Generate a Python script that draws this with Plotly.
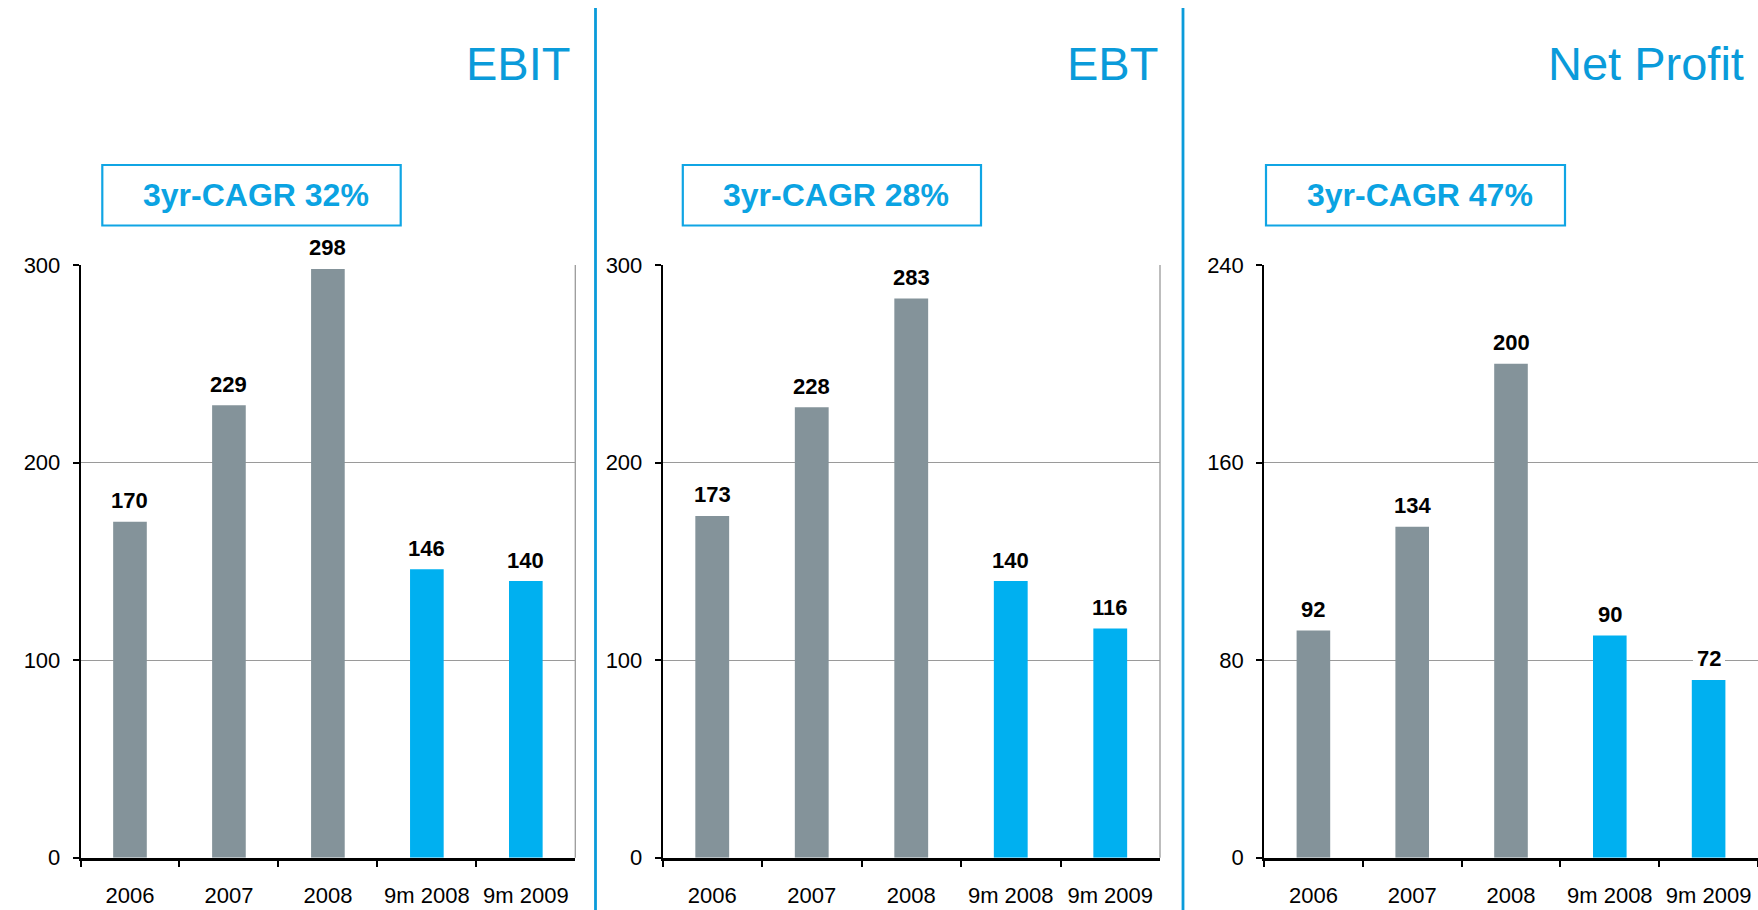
import plotly.graph_objects as go

categories = ["2006", "2007", "2008", "9m 2008", "9m 2009"]
ebit = [170, 229, 298, 146, 140]
ebt = [173, 228, 283, 140, 116]
net_profit = [92, 134, 200, 90, 72]
panel_titles = ["EBIT", "EBT", "Net Profit"]
cagr_labels = ["3yr-CAGR 32%", "3yr-CAGR 28%", "3yr-CAGR 47%"]
y_ranges = [[0, 300], [0, 300], [0, 240]]
y_ticks = [[0, 100, 200, 300], [0, 100, 200, 300], [0, 80, 160, 240]]

GRAY = "#84939A"
BLUE = "#00B0F0"
TITLE_BLUE = "#0A9BDA"
bar_colors = [GRAY, GRAY, GRAY, BLUE, BLUE]
FONT = "Liberation Sans, Arial, sans-serif"

W, H = 1758, 910
x_domains = [[80.5 / W, 575.3 / W], [662.5 / W, 1160 / W], [1264 / W, 1.0]]
y_domain = [1 - 857.7 / H, 1 - 265 / H]
title_right = [571.5, 1159.5, 1745.5]
box_x = [(102.3, 400.7), (682.8, 981.0), (1266.0, 1565.0)]
box_y = (165.0, 225.5)
dividers = [595.5, 1183.0]

series = [ebit, ebt, net_profit]

fig = go.Figure()
annotations = []
shapes = []

for i, vals in enumerate(series):
    n = "" if i == 0 else str(i + 1)
    fig.add_trace(go.Bar(
        x=categories, y=vals, width=0.34,
        marker=dict(color=bar_colors, line=dict(width=0)),
        xaxis="x" + n, yaxis="y" + n, showlegend=False,
        hoverinfo="x+y", cliponaxis=False,
    ))
    fig.layout["xaxis" + n] = dict(
        domain=x_domains[i], anchor="y" + n, type="category",
        categoryorder="array", categoryarray=categories,
        range=[-0.5, 4.5], showline=True, linecolor="black", linewidth=2.5,
        ticks="outside", tickson="boundaries", ticklen=7, tickcolor="black",
        tickwidth=1.5, ticklabelstandoff=16, automargin=False,
        tickfont=dict(family=FONT, size=22, color="black"),
        showgrid=False, zeroline=False, fixedrange=True,
    )
    fig.layout["yaxis" + n] = dict(
        domain=y_domain, anchor="x" + n, range=y_ranges[i],
        tickvals=y_ticks[i], showline=True, linecolor="black", linewidth=1.5,
        ticks="outside", ticklen=6, tickcolor="black", tickwidth=1.5,
        ticklabelstandoff=8, automargin=False,
        tickfont=dict(family=FONT, size=22, color="black"),
        showgrid=True, gridcolor="#9A9A9A", gridwidth=1.3,
        zeroline=False, fixedrange=True,
    )
    for k, v in enumerate(vals):
        annotations.append(dict(
            x=k, y=v, xref="x" + n, yref="y" + n, text="<b>%d</b>" % v,
            showarrow=False, yanchor="middle", yshift=21,
            font=dict(family=FONT, size=22, color="black"),
            bgcolor="white", borderpad=4, borderwidth=0,
        ))
    # panel title
    annotations.append(dict(
        x=title_right[i] / W, y=1 - 64 / H, xref="paper", yref="paper",
        text=panel_titles[i], showarrow=False, xanchor="right",
        yanchor="middle", font=dict(family=FONT, size=47, color=TITLE_BLUE),
    ))
    # CAGR box
    x0, x1 = box_x[i]
    shapes.append(dict(
        type="rect", xref="paper", yref="paper",
        x0=x0 / W, x1=x1 / W, y0=1 - box_y[1] / H, y1=1 - box_y[0] / H,
        line=dict(color="#10A5E4", width=2.2), fillcolor="white", layer="above",
    ))
    annotations.append(dict(
        x=((x0 + x1) / 2 + 4) / W, y=1 - 195 / H, xref="paper", yref="paper",
        text="<b>" + cagr_labels[i] + "</b>", showarrow=False,
        xanchor="center", yanchor="middle",
        font=dict(family=FONT, size=32, color="#0BA3E2"),
    ))
    # right plot border (gray)
    if i < 2:
        shapes.append(dict(
            type="line", xref="x" + n + " domain", yref="y" + n + " domain",
            x0=1, x1=1, y0=0, y1=1,
            line=dict(color="#9A9A9A", width=1.3), layer="below",
        ))

for d in dividers:
    shapes.append(dict(
        type="line", xref="paper", yref="paper",
        x0=d / W, x1=d / W, y0=0, y1=1 - 8 / H,
        line=dict(color="#0A9BDA", width=2.8),
    ))

fig.update_layout(
    width=W, height=H, margin=dict(l=0, r=0, t=0, b=0, pad=0, autoexpand=False),
    paper_bgcolor="white", plot_bgcolor="white",
    annotations=annotations, shapes=shapes,
    font=dict(family=FONT),
)

fig.write_html(
    "out.html",
    config={"displayModeBar": False},
    post_script="document.body.style.margin='0';document.body.style.overflow='hidden';",
)
